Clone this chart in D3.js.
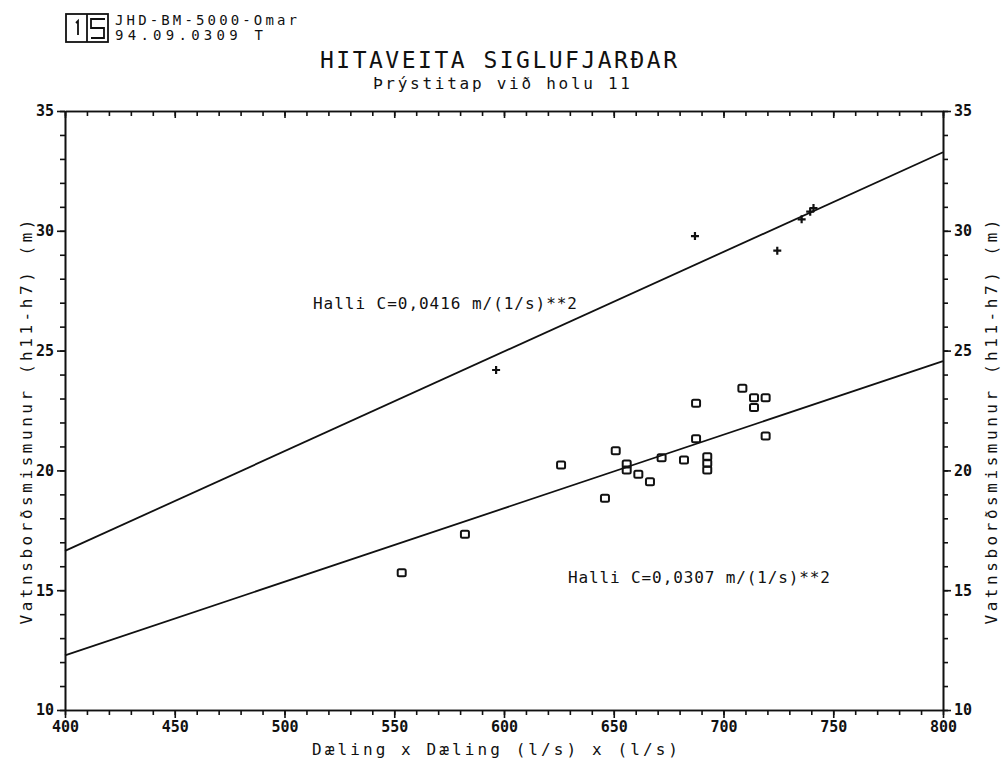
<!DOCTYPE html>
<html>
<head>
<meta charset="utf-8">
<script src="https://cdn.jsdelivr.net/npm/d3@7"></script>
<style>
    body { margin: 0; background: #fff; }
    text { font-family: "DejaVu Sans Mono", monospace; fill: #111; }
    .axis path, .axis line { stroke: #111; stroke-width: 1.6; }
    .axis text { font-size: 15px; font-weight: bold; }
</style>
</head>
<body>
<div id="chart"></div>
<script>
// Data
const xTicks = [400, 450, 500, 550, 600, 650, 700, 750, 800];
const yTicks = [10, 15, 20, 25, 30, 35];

// upper series (+), pairs of [Q*Q, dh]
const plusX = [596.4, 687.0, 724.5, 735.6, 739.5, 741.0];
const plusY = [24.19, 29.78, 29.17, 30.48, 30.80, 30.95];

// lower series (squares)
const squareX = [553.4, 582.2, 626.0, 646.0, 650.9, 655.9, 655.9, 661.2, 666.5, 671.8, 682.0,
    687.5, 687.5, 692.6, 692.6, 692.6, 708.6, 713.9, 713.9, 719.2, 719.2];
const squareY = [15.73, 17.33, 20.23, 18.84, 20.82, 20.27, 20.02, 19.84, 19.53, 20.53, 20.43,
    22.80, 21.32, 20.57, 20.30, 20.02, 23.43, 23.03, 22.62, 23.03, 21.44];

// fitted lines through origin, end points at x = 400 and 800
const lineX = [400, 800];
const upperLineY = [16.64, 33.28];
const lowerLineY = [12.28, 24.56];

const upperLabel = 'Halli C=0,0416 m/(1/s)**2';
const lowerLabel = 'Halli C=0,0307 m/(1/s)**2';

function draw() {
    // Dimensions
    let dimensions = {
        width: 1004,
        height: 765,
        margin: { top: 111, bottom: 55, left: 65, right: 61 },
    };
    dimensions.ctrWidth = dimensions.width - dimensions.margin.left - dimensions.margin.right;
    dimensions.ctrHeight = dimensions.height - dimensions.margin.top - dimensions.margin.bottom;

    const svg = d3.select('#chart')
        .append('svg')
        .attr('width', dimensions.width)
        .attr('height', dimensions.height);

    // Header block
    const head = svg.append('g').attr('fill', 'none').attr('stroke', '#111').attr('stroke-width', 1.8);
    head.append('rect').attr('x', 66).attr('y', 14).attr('width', 42).attr('height', 28);
    head.append('line').attr('x1', 87).attr('x2', 87).attr('y1', 14).attr('y2', 42);
    head.append('path').attr('d', 'M76,23 L78,21 L78,35');
    head.append('path').attr('d', 'M105,19 L91,19 L91,28 L104,28 L104,38 L91,38');

    svg.append('text').attr('x', 115).attr('y', 25).style('font-size', '14px')
        .attr('textLength', 182).attr('lengthAdjust', 'spacing')
        .text('JHD-BM-5000-Omar');
    svg.append('text').attr('x', 115).attr('y', 40).style('font-size', '14px')
        .attr('textLength', 148).attr('lengthAdjust', 'spacing')
        .text('94.09.0309   T');

    svg.append('text').attr('x', 320).attr('y', 68).style('font-size', '23px')
        .attr('textLength', 357).attr('lengthAdjust', 'spacing')
        .text('HITAVEITA SIGLUFJARÐAR');
    svg.append('text').attr('x', 373).attr('y', 89).style('font-size', '16px')
        .attr('textLength', 257).attr('lengthAdjust', 'spacing')
        .text('Þrýstitap við holu 11');

    const ctr = svg.append('g')
        .attr('transform', `translate(${dimensions.margin.left}, ${dimensions.margin.top})`);

    // Scales
    const xScale = d3.scaleLinear().domain([400, 800]).range([0, dimensions.ctrWidth]);
    const yScale = d3.scaleLinear().domain([10, 35]).range([dimensions.ctrHeight, 0]);

    const xMinor = d3.range(400, 801, 10);
    const yMinor = d3.range(10, 35.01, 1);

    // Axes: minor first, then major
    ctr.append('g').classed('axis', true)
        .attr('transform', `translate(0, ${dimensions.ctrHeight})`)
        .call(d3.axisBottom(xScale).tickValues(xMinor).tickSize(5).tickFormat('').tickSizeOuter(0));
    ctr.append('g').classed('axis', true)
        .attr('transform', `translate(0, ${dimensions.ctrHeight})`)
        .call(d3.axisBottom(xScale).tickValues(xTicks).tickSize(8).tickPadding(3).tickSizeOuter(0));

    ctr.append('g').classed('axis', true)
        .call(d3.axisBottom(xScale).tickValues(xMinor).tickSize(5).tickFormat('').tickSizeOuter(0));
    ctr.append('g').classed('axis', true)
        .call(d3.axisBottom(xScale).tickValues(xTicks).tickSize(7).tickFormat('').tickSizeOuter(0));

    ctr.append('g').classed('axis', true)
        .call(d3.axisLeft(yScale).tickValues(yMinor).tickSize(5).tickFormat('').tickSizeOuter(0));
    ctr.append('g').classed('axis', true)
        .call(d3.axisLeft(yScale).tickValues(yTicks).tickSize(8).tickPadding(3).tickSizeOuter(0));

    ctr.append('g').classed('axis', true)
        .attr('transform', `translate(${dimensions.ctrWidth}, 0)`)
        .call(d3.axisRight(yScale).tickValues(yMinor).tickSize(5).tickFormat('').tickSizeOuter(0));
    ctr.append('g').classed('axis', true)
        .attr('transform', `translate(${dimensions.ctrWidth}, 0)`)
        .call(d3.axisRight(yScale).tickValues(yTicks).tickSize(8).tickPadding(3).tickSizeOuter(0));

    ctr.selectAll('.axis .domain').attr('stroke-width', 1.8);

    // Axis titles
    svg.append('text')
        .attr('x', 495).attr('y', 755)
        .attr('text-anchor', 'middle')
        .style('font-size', '16px')
        .attr('textLength', 366).attr('lengthAdjust', 'spacing')
        .text('Dæling x Dæling   (l/s) x (l/s)');

    const yTitle = 'Vatnsborðsmismunur  (h11-h7)   (m)';
    svg.append('text')
        .attr('transform', 'translate(32, 422) rotate(-90)')
        .attr('text-anchor', 'middle')
        .style('font-size', '16px')
        .attr('textLength', 405).attr('lengthAdjust', 'spacing')
        .text(yTitle);
    svg.append('text')
        .attr('transform', 'translate(997, 422) rotate(-90)')
        .attr('text-anchor', 'middle')
        .style('font-size', '16px')
        .attr('textLength', 405).attr('lengthAdjust', 'spacing')
        .text(yTitle);

    // Fit lines
    const line = d3.line().x(d => xScale(d[0])).y(d => yScale(d[1]));
    ctr.append('path')
        .attr('d', line(lineX.map((x, i) => [x, upperLineY[i]])))
        .attr('fill', 'none').attr('stroke', '#111').attr('stroke-width', 1.8);
    ctr.append('path')
        .attr('d', line(lineX.map((x, i) => [x, lowerLineY[i]])))
        .attr('fill', 'none').attr('stroke', '#111').attr('stroke-width', 1.8);

    // Squares
    ctr.selectAll('rect.sq')
        .data(squareX)
        .join('rect')
        .classed('sq', true)
        .attr('x', (d) => xScale(d) - 4)
        .attr('y', (d, i) => yScale(squareY[i]) - 3.5)
        .attr('width', 8)
        .attr('height', 7)
        .attr('rx', 1.5)
        .attr('fill', 'none')
        .attr('stroke', '#111')
        .attr('stroke-width', 2);

    // Plus markers
    const plusPath = 'M-4,0 L4,0 M0,-4 L0,4';
    ctr.selectAll('path.plus')
        .data(plusX)
        .join('path')
        .classed('plus', true)
        .attr('transform', (d, i) => `translate(${xScale(d)}, ${yScale(plusY[i])})`)
        .attr('d', plusPath)
        .attr('stroke', '#111')
        .attr('stroke-width', 2.2);

    // Slope annotations
    svg.append('text').attr('x', 313).attr('y', 309).style('font-size', '16px')
        .attr('textLength', 264).attr('lengthAdjust', 'spacing')
        .text(upperLabel);
    svg.append('text').attr('x', 568).attr('y', 583).style('font-size', '16px')
        .attr('textLength', 262).attr('lengthAdjust', 'spacing')
        .text(lowerLabel);
}

draw();
</script>
</body>
</html>
